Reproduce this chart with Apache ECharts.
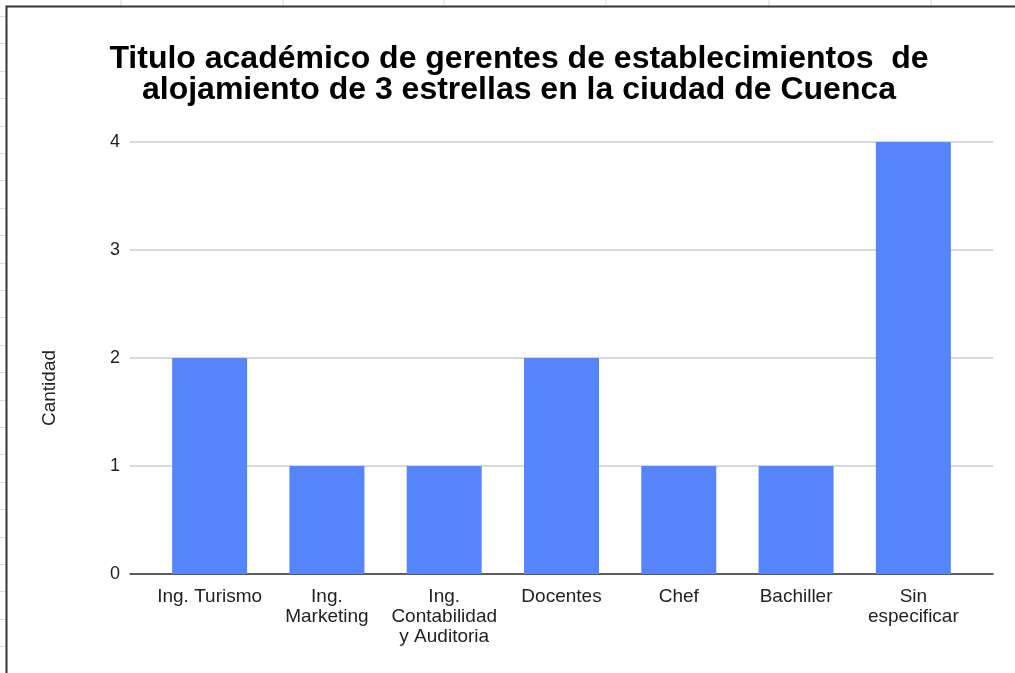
<!DOCTYPE html>
<html>
<head>
<meta charset="utf-8">
<script src="https://cdn.jsdelivr.net/npm/echarts@6/dist/echarts.min.js"></script>
<style>
  html, body { margin: 0; padding: 0; background: #fff; }
  #chart { width: 1015px; height: 673px; }
</style>
</head>
<body>
<div id="chart"></div>
<script>
// datos del grafico
const categorias = ['Ing. Turismo', 'Ing.\nMarketing', 'Ing.\nContabilidad\ny Auditoria', 'Docentes', 'Chef', 'Bachiller', 'Sin\nespecificar']
const cantidad = [2, 1, 1, 2, 1, 1, 4]
const ticksY = [0, 1, 2, 3, 4]

const myChart = echarts.init(document.getElementById('chart'))
const fuente = '"Liberation Sans", Arial, sans-serif'

// lineas de la hoja de calculo detras del grafico
let fondo = []
const colX = [121, 283, 444, 606, 769, 931]
for (const x of colX) {
  fondo.push({ type: 'line', shape: { x1: x, y1: 0, x2: x, y2: 6 }, style: { stroke: '#d9d9d9', lineWidth: 1 } })
}
for (let y = 16; y < 673; y += 27.4) {
  fondo.push({ type: 'line', shape: { x1: 0, y1: Math.round(y) + 0.5, x2: 6, y2: Math.round(y) + 0.5 }, style: { stroke: '#d9d9d9', lineWidth: 1 } })
}
// marco del grafico
fondo.push({ type: 'polyline', shape: { points: [[6.5, 680], [6.5, 6.5], [1020, 6.5]] }, style: { stroke: '#333', lineWidth: 2, fill: null } })
// titulo del eje y
fondo.push({
  type: 'text', x: 40, y: 388, rotation: Math.PI / 2,
  style: { text: 'Cantidad', fill: '#222', font: '19px ' + fuente, align: 'center', verticalAlign: 'top' }
})

let option = {
  animation: false,
  backgroundColor: '#fff',
  title: {
    text: 'Titulo académico de gerentes de establecimientos  de\nalojamiento de 3 estrellas en la ciudad de Cuenca',
    left: 514,
    top: 39,
    textAlign: 'center',
    textStyle: {
      fontFamily: fuente,
      fontWeight: 'bold',
      fontSize: 32,
      lineHeight: 31,
      color: '#000'
    }
  },
  graphic: fondo,
  grid: [
    { left: 130, right: 22, top: 142, bottom: 99 },
    { left: 151, right: 43, top: 142, bottom: 99 }
  ],
  xAxis: [
    {
      type: 'value', gridIndex: 0, min: 0, max: 1,
      axisLine: { show: true, onZero: false, lineStyle: { color: '#333', width: 1.5 } },
      axisTick: { show: false }, axisLabel: { show: false }, splitLine: { show: false }
    },
    {
      type: 'category', gridIndex: 1, data: categorias,
      axisLine: { show: false }, axisTick: { show: false },
      axisLabel: {
        interval: 0, margin: 13, color: '#222', fontSize: 19, lineHeight: 20,
        fontFamily: fuente, verticalAlign: 'top'
      }
    }
  ],
  yAxis: [
    {
      type: 'value', gridIndex: 0, min: ticksY[0], max: ticksY[ticksY.length - 1], interval: 1,
      axisLine: { show: false }, axisTick: { show: false },
      axisLabel: { margin: 10, color: '#222', fontSize: 18, fontFamily: fuente },
      splitLine: { lineStyle: { color: '#cccccc', width: 1.5 } }
    },
    {
      type: 'value', gridIndex: 1, min: ticksY[0], max: ticksY[ticksY.length - 1], interval: 1,
      show: false
    }
  ],
  series: [
    {
      name: 'Cantidad',
      type: 'bar',
      xAxisIndex: 1,
      yAxisIndex: 1,
      barWidth: 75,
      itemStyle: { color: '#5585ff' },
      data: cantidad
    }
  ]
}
myChart.setOption(option)
</script>
</body>
</html>
